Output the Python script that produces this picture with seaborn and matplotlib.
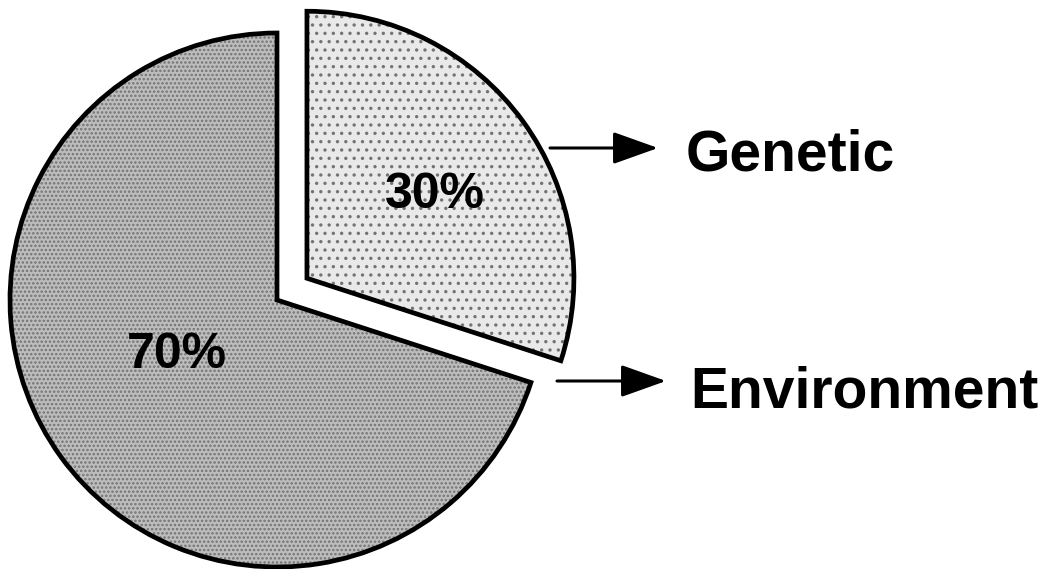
import matplotlib
matplotlib.use("Agg")
import matplotlib.pyplot as plt
import seaborn as sns
from matplotlib.patches import FancyArrowPatch

# Share of variance explained by each factor
factors = ["Genetic", "Environment"]
shares = [30, 70]

sns.set_theme(style="white")
plt.rcParams["font.family"] = ["Liberation Sans", "DejaVu Sans"]
plt.rcParams["hatch.linewidth"] = 1.2

W, H = 1045, 569
fig = plt.figure(figsize=(W / 100, H / 100), dpi=100)
ax = fig.add_axes([0, 0, 1, 1])

center = (277, 269)
radius = 267
wedges, _ = ax.pie(
    shares,
    explode=[37, 0],
    startangle=90,
    counterclock=False,
    center=center,
    radius=radius,
    wedgeprops=dict(linewidth=3.4, edgecolor="black"),
)

# stippled grey fills
wedges[0].set_facecolor("#e9e9e9")
wedges[0].set_hatch("..")
wedges[1].set_facecolor("#bdbdbd")
wedges[1].set_hatch("....")
for w in wedges:
    w._hatch_color = (0.45, 0.45, 0.45, 1.0)

ax.set_xlim(0, W)
ax.set_ylim(0, H)
ax.set_aspect("equal")
ax.axis("off")

# percentage labels inside the slices
pct_pos = [(435, H - 195), (177, H - 355)]
for val, (x, y) in zip(shares, pct_pos):
    ax.text(x, y, f"{val}%", ha="center", va="center",
            fontsize=36, fontweight="bold", color="black")

# arrows pointing to the factor names
arrows = [((550, H - 148), (658, H - 148)), ((557, H - 381), (666, H - 381))]
name_pos = [(686, H - 155), (690, H - 392)]
for name, (p0, p1), (tx, ty) in zip(factors, arrows, name_pos):
    ax.add_patch(FancyArrowPatch(p0, p1,
                                 arrowstyle="-|>,head_length=28,head_width=10",
                                 mutation_scale=1, linewidth=2.2,
                                 color="black", shrinkA=0, shrinkB=0))
    ax.text(tx, ty, name, ha="left", va="center",
            fontsize=41, fontweight="bold", color="black")

fig.savefig("out.png", dpi=100)
